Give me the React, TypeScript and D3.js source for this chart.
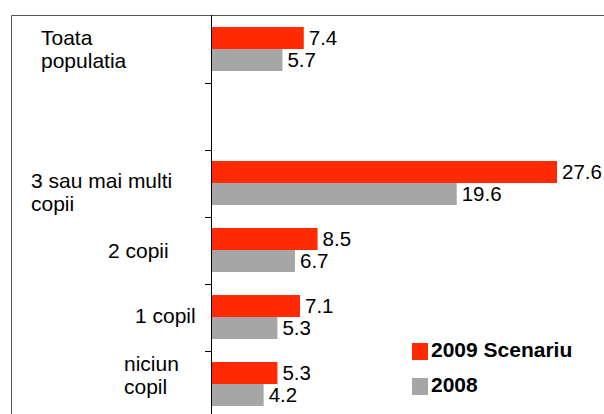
import React, { useEffect, useRef } from "react"
import * as d3 from "d3"

// categories, top to bottom (the second slot is an empty gap row)
const categories = ["Toata populatia", "", "3 sau mai multi copii", "2 copii", "1 copil", "niciun copil"]
const labelLines = [["Toata", "populatia"], [], ["3 sau mai multi", "copii"], ["2 copii"], ["1 copil"], ["niciun", "copil"]]
const series = ["2009 Scenariu", "2008"]
const values2009 = [7.4, null, 27.6, 8.5, 7.1, 5.3]
const values2008 = [5.7, null, 19.6, 6.7, 5.3, 4.2]
const colors = ["#ff2a00", "#a6a6a6"]

// where each category label sits: left x, baseline of first line from band top
const labelLayout = [[41, 29], [0, 0], [31, 38], [108, 41], [135, 39], [124, 20]]

const W = 604
const H = 414
const FONT = "'Liberation Sans', Arial, sans-serif"

function App() {
  const svgRef = useRef<SVGSVGElement>(null)

  useEffect(() => {
    const svg = d3.select(svgRef.current)
    svg.selectAll("*").remove()

    const axisX = 211
    const y = d3.scaleBand<string>()
      .domain(categories.map((c, i) => i + ":" + c))
      .range([16, 418])
      .padding(0)
    const inner = d3.scaleBand<string>().domain(series).range([11, 55]).padding(0)
    const x = d3.scaleLinear().domain([0, 27.6]).range([axisX, 557])

    // frame
    svg.append("path")
      .attr("d", `M11.5,${H} V15.5 H${W}`)
      .attr("fill", "none")
      .attr("stroke", "#555")
      .attr("stroke-width", 1)

    const rows = categories.map((c, i) => ({
      key: i + ":" + c,
      vals: [values2009[i], values2008[i]],
    }))

    const g = svg.selectAll(".row").data(rows).enter().append("g")
      .attr("class", "row")
      .attr("transform", d => `translate(0,${y(d.key)})`)

    series.forEach((s, si) => {
      const withVal = g.filter(d => d.vals[si] != null)
      withVal.append("rect")
        .attr("x", axisX)
        .attr("y", inner(s)!)
        .attr("width", d => x(d.vals[si] as number) - axisX)
        .attr("height", inner.bandwidth())
        .attr("fill", colors[si])
      withVal.append("text")
        .attr("x", d => x(d.vals[si] as number) + 5)
        .attr("y", inner(s)! + inner.bandwidth() / 2)
        .attr("dy", "0.36em")
        .attr("font-family", FONT)
        .attr("font-size", 20.5)
        .attr("fill", "#000")
        .text(d => d3.format(".1f")(d.vals[si] as number))
    })

    // category labels
    g.each(function (d, i) {
      const [lx, ly] = labelLayout[i]
      const t = d3.select(this).append("text")
        .attr("font-family", FONT)
        .attr("font-size", 21)
        .attr("fill", "#000")
      labelLines[i].forEach((ln, li) => {
        t.append("tspan").attr("x", lx).attr("y", ly + li * 23).text(ln)
      })
    })

    // axis line + ticks on band boundaries
    svg.append("line")
      .attr("x1", axisX + 0.5).attr("x2", axisX + 0.5)
      .attr("y1", 15).attr("y2", H)
      .attr("stroke", "#000")
    svg.selectAll(".tick").data(rows.slice(1)).enter().append("line")
      .attr("x1", axisX - 6).attr("x2", axisX)
      .attr("y1", d => Math.round(y(d.key)!) + 0.5)
      .attr("y2", d => Math.round(y(d.key)!) + 0.5)
      .attr("stroke", "#000")

    // legend
    const lg = svg.append("g").attr("transform", "translate(412,343)")
    series.forEach((s, si) => {
      lg.append("rect")
        .attr("x", 0).attr("y", si * 35)
        .attr("width", 16).attr("height", 17)
        .attr("fill", colors[si])
      lg.append("text")
        .attr("x", 19).attr("y", si * 35 + 14)
        .attr("font-family", FONT)
        .attr("font-size", 21)
        .attr("font-weight", "bold")
        .attr("fill", "#000")
        .text(s)
    })
  }, [])

  return (
    <svg ref={svgRef} width={W} height={H}
      style={{ position: "absolute", left: 0, top: 0, background: "#fff" }} />
  )
}

export default App
